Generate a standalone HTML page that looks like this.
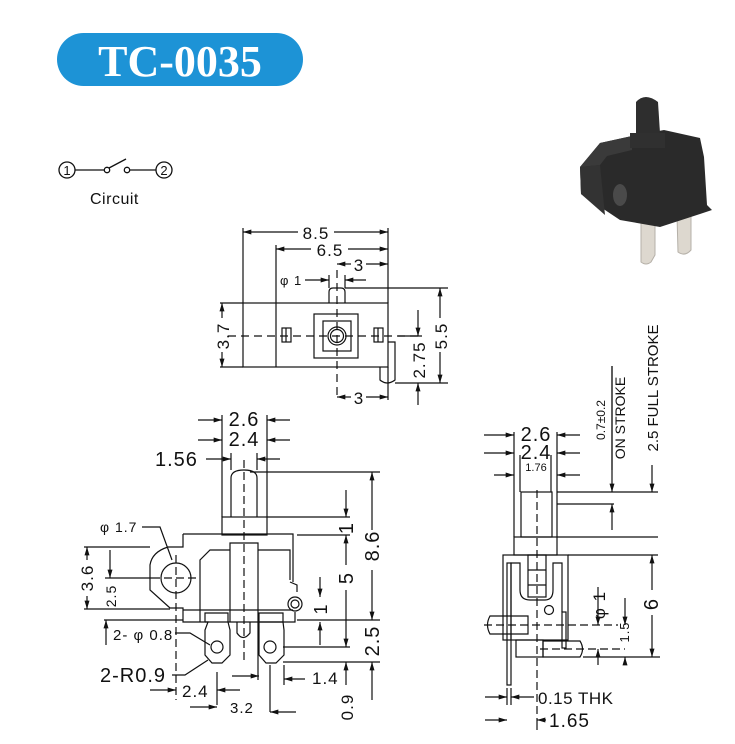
<!DOCTYPE html>
<html><head><meta charset="utf-8"><style>
html,body{margin:0;padding:0;background:#fff;width:735px;height:744px;overflow:hidden}
svg{display:block}
text{font-family:"Liberation Sans",sans-serif;fill:#111}
</style></head><body>
<svg width="735" height="744" viewBox="0 0 735 744" xmlns="http://www.w3.org/2000/svg">
<defs>
<marker id="a" viewBox="0 0 10 6" refX="10" refY="3" markerWidth="9" markerHeight="5" orient="auto-start-reverse" markerUnits="userSpaceOnUse"><path d="M0,0L10,3L0,6z" fill="#111"/></marker>
</defs>
<!-- header -->
<rect x="57" y="33" width="246" height="53" rx="26.5" fill="#1d93d6"/>
<text x="180" y="76" text-anchor="middle" style="font-family:'Liberation Serif',serif;font-weight:bold;font-size:44px;fill:#fff">TC-0035</text>
<!-- circuit -->
<g stroke="#111" stroke-width="1.3" fill="none">
<circle cx="67" cy="170" r="8"/><circle cx="164" cy="170" r="8"/>
<line x1="75" y1="170" x2="104" y2="170"/><circle cx="107" cy="170" r="2.7"/>
<line x1="109" y1="168" x2="126" y2="159"/><circle cx="127" cy="170" r="2.7"/>
<line x1="130" y1="170" x2="156" y2="170"/>
</g>
<text x="67" y="175" text-anchor="middle" font-size="13">1</text>
<text x="164" y="175" text-anchor="middle" font-size="13">2</text>
<text x="90" y="204" font-size="16" letter-spacing="0.5">Circuit</text>
<!-- photo -->
<g>
<path d="M641,222 L655,220 L655,255 L651,262 Q646,266 641,262 Z" fill="#ddd8cf" stroke="#b5b0a8"/>
<path d="M677,215 L691,213 L691,250 Q685,257 678,252 Z" fill="#ddd8cf" stroke="#b5b0a8"/>
<path d="M580,167 L600,143 L632,136 L664,130 L700,138 L704,157 L707,205 L712,210 L700,214 L660,227 L620,220 L581,194 Z" fill="#2a2a2a"/>
<path d="M580,167 L600,143 L632,136 L632,150 L607,156 L600,165 Z" fill="#3a3a3a"/>
<path d="M581,194 L580,167 L600,165 L605,215 Z" fill="#333"/>
<ellipse cx="620" cy="195" rx="7" ry="11" fill="#4a4a4a"/>
<rect x="630" y="133" width="35" height="15" fill="#303030"/>
<path d="M636,133 L636,102 Q645,92 658,102 L660,133 Z" fill="#2e2e2e"/>
</g>
<g stroke="#111" stroke-width="1.2" fill="none">
<!-- TOP VIEW -->
<rect x="243" y="303" width="145" height="64"/>
<line x1="276" y1="303" x2="276" y2="367"/>
<rect x="314" y="314" width="44" height="44"/>
<rect x="323" y="321" width="28" height="30"/>
<circle cx="337" cy="336" r="9"/><circle cx="337" cy="336" r="6.5"/>
<rect x="282" y="328" width="9" height="14"/><line x1="286" y1="328" x2="286" y2="342"/>
<rect x="374" y="328" width="9" height="14"/><line x1="378" y1="328" x2="378" y2="342"/>
<path d="M329,303 L329,292 Q329,288 333,288 L341,288 Q345,288 345,292 L345,303"/>
<path d="M380,367 L380,380 Q387,386 395,380 L395,342 L388,342"/>
<line x1="228" y1="336" x2="420" y2="336" stroke-dasharray="8,5"/>
<line x1="337" y1="270" x2="337" y2="400" stroke-dasharray="8,5"/>
<line x1="243" y1="228" x2="243" y2="303"/>
<line x1="388" y1="228" x2="388" y2="303"/>
<line x1="276" y1="245" x2="276" y2="303"/>
<line x1="329" y1="275" x2="329" y2="288"/><line x1="345" y1="275" x2="345" y2="288"/>
<line x1="243" y1="232" x2="298" y2="232" marker-start="url(#a)"/><line x1="334" y1="232" x2="388" y2="232" marker-end="url(#a)"/>
<line x1="276" y1="249" x2="311" y2="249" marker-start="url(#a)"/><line x1="348" y1="249" x2="388" y2="249" marker-end="url(#a)"/>
<line x1="337" y1="264" x2="351" y2="264" marker-start="url(#a)"/><line x1="366" y1="264" x2="388" y2="264" marker-end="url(#a)"/>
<line x1="305" y1="280" x2="329" y2="280" marker-end="url(#a)"/><line x1="366" y1="280" x2="345" y2="280" marker-end="url(#a)"/>
<line x1="220" y1="303" x2="243" y2="303"/><line x1="220" y1="367" x2="243" y2="367"/>
<line x1="222" y1="303" x2="222" y2="318" marker-start="url(#a)"/><line x1="222" y1="352" x2="222" y2="367" marker-end="url(#a)"/>
<line x1="345" y1="288" x2="448" y2="288"/><line x1="395" y1="383" x2="448" y2="383"/>
<line x1="440" y1="288" x2="440" y2="318" marker-start="url(#a)"/><line x1="440" y1="352" x2="440" y2="383" marker-end="url(#a)"/>
<line x1="398" y1="336" x2="422" y2="336"/>
<line x1="418" y1="310" x2="418" y2="336" marker-end="url(#a)"/><line x1="418" y1="405" x2="418" y2="383" marker-end="url(#a)"/>
<line x1="388" y1="367" x2="388" y2="400"/>
<line x1="337" y1="397" x2="351" y2="397" marker-start="url(#a)"/><line x1="366" y1="397" x2="388" y2="397" marker-end="url(#a)"/>

<!-- FRONT VIEW -->
<path d="M231,517 L231,478 Q231,470 244,470 Q257,470 257,478 L257,517"/>
<rect x="222" y="517" width="45" height="18"/>
<path d="M183,534 L293,534 L293,582 M183,534 L183,547 L168,547 Q152,552 150,565 L150,590 L170,608 L183,608 L183,622 L295,622 L295,612"/>
<line x1="183" y1="610" x2="293" y2="610"/>
<path d="M200,622 L200,560 L210,550 L230,550 M258,550 L290,550 L290,580"/>
<path d="M230,622 L230,543 L258,543 L258,622"/>
<path d="M237,622 L237,633 Q243,642 250,633 L250,622"/>
<circle cx="176" cy="578" r="15"/>
<line x1="152" y1="578" x2="200" y2="578" stroke-dasharray="8,4"/>
<line x1="176" y1="555" x2="176" y2="700" stroke-dasharray="8,4"/>
<circle cx="295" cy="604" r="7"/><circle cx="295" cy="604" r="4"/>
<path d="M290,582 L297,585 L297,592"/>
<path d="M205,622 L205,613 L228,613 L228,622 M205,622 L208,622 L205,630 L205,655 L212,663 L222,663 L230,655 L230,630 L228,622"/>
<circle cx="217" cy="647" r="6"/>
<path d="M259,622 L259,613 L283,613 L283,622 M259,630 L259,655 L266,663 L276,663 L284,655 L284,630 L283,622 L259,622 L259,630"/>
<circle cx="270" cy="647" r="6"/>
<line x1="244" y1="460" x2="244" y2="660" stroke-dasharray="8,4"/>
<line x1="222" y1="415" x2="222" y2="517"/><line x1="267" y1="415" x2="267" y2="517"/>
<line x1="231" y1="453" x2="231" y2="470"/><line x1="257" y1="453" x2="257" y2="470"/>
<line x1="198" y1="420" x2="222" y2="420" marker-end="url(#a)"/><line x1="290" y1="420" x2="267" y2="420" marker-end="url(#a)"/>
<line x1="198" y1="440" x2="222" y2="440" marker-end="url(#a)"/><line x1="290" y1="440" x2="267" y2="440" marker-end="url(#a)"/>
<line x1="206" y1="459" x2="231" y2="459" marker-end="url(#a)"/><line x1="280" y1="459" x2="257" y2="459" marker-end="url(#a)"/>
<line x1="250" y1="472" x2="380" y2="472"/><line x1="267" y1="517" x2="350" y2="517"/>
<line x1="297" y1="535" x2="350" y2="535"/><line x1="297" y1="620" x2="380" y2="620"/>
<line x1="283" y1="647" x2="350" y2="647"/><line x1="283" y1="662" x2="380" y2="662"/>
<line x1="372" y1="472" x2="372" y2="530" marker-start="url(#a)"/><line x1="372" y1="570" x2="372" y2="620" marker-end="url(#a)"/>
<line x1="372" y1="700" x2="372" y2="662" marker-end="url(#a)"/>
<line x1="346" y1="490" x2="346" y2="517" marker-end="url(#a)"/>
<line x1="346" y1="535" x2="346" y2="565" marker-start="url(#a)"/><line x1="346" y1="590" x2="346" y2="647" marker-end="url(#a)"/>
<line x1="346" y1="685" x2="346" y2="662" marker-end="url(#a)"/>
<line x1="320" y1="577" x2="320" y2="597" marker-end="url(#a)"/>
<line x1="320" y1="645" x2="320" y2="622" marker-end="url(#a)"/>
<line x1="258" y1="622" x2="258" y2="680"/>
<line x1="84" y1="547" x2="150" y2="547"/><line x1="84" y1="609" x2="170" y2="609"/>
<line x1="87" y1="547" x2="87" y2="560" marker-start="url(#a)"/><line x1="87" y1="596" x2="87" y2="609" marker-end="url(#a)"/>
<line x1="110" y1="550" x2="110" y2="578" marker-end="url(#a)"/><line x1="105" y1="578" x2="152" y2="578"/>
<line x1="106" y1="620" x2="106" y2="645" marker-start="url(#a)"/><line x1="104" y1="620" x2="183" y2="620"/>
<path d="M142,527 L160,527 L172,560"/>
<path d="M175,633 L190,633 L210,645"/>
<path d="M172,675 L185,675 L208,660"/>
<line x1="217" y1="672" x2="217" y2="705"/><line x1="270" y1="665" x2="270" y2="712"/>
<line x1="150" y1="690" x2="176" y2="690" marker-end="url(#a)"/><line x1="240" y1="690" x2="217" y2="690" marker-end="url(#a)"/>
<line x1="190" y1="707" x2="217" y2="707" marker-end="url(#a)"/><line x1="296" y1="712" x2="270" y2="712" marker-end="url(#a)"/>
<line x1="232" y1="676" x2="259" y2="676" marker-end="url(#a)"/>
<line x1="284" y1="665" x2="284" y2="685"/>
<line x1="305" y1="679" x2="284" y2="679" marker-end="url(#a)"/>

<!-- SIDE VIEW -->
<line x1="514" y1="432" x2="514" y2="537"/><line x1="557" y1="432" x2="557" y2="537"/>
<line x1="520" y1="455" x2="520" y2="492"/><line x1="551" y1="455" x2="551" y2="492"/>
<rect x="521" y="492" width="31" height="45"/>
<rect x="514" y="537" width="43" height="18"/>
<rect x="503" y="555" width="65" height="85"/>
<path d="M511,640 L511,563 L520,563 L520,590 Q520,600 530,600 L545,600 Q553,600 553,590 L553,563 L562,563 L562,612"/>
<rect x="528" y="555" width="18" height="42"/>
<line x1="528" y1="570" x2="546" y2="570"/><line x1="528" y1="585" x2="546" y2="585"/>
<circle cx="549" cy="610" r="4.5"/>
<rect x="507" y="563" width="4" height="122"/>
<rect x="562" y="612" width="4" height="36"/>
<path d="M528,616 L490,616 Q485,625 490,634 L528,634 Z"/>
<rect x="516" y="640" width="27" height="17"/>
<path d="M543,641 L580,641 Q585,649 580,657 L543,657 Z"/>
<line x1="537" y1="490" x2="537" y2="722" stroke-dasharray="8,4"/>
<line x1="484" y1="625" x2="618" y2="625" stroke-dasharray="8,4"/>
<line x1="540" y1="649" x2="625" y2="649" stroke-dasharray="8,4"/>
<line x1="484" y1="435" x2="514" y2="435" marker-end="url(#a)"/><line x1="580" y1="435" x2="557" y2="435" marker-end="url(#a)"/>
<line x1="484" y1="453" x2="514" y2="453" marker-end="url(#a)"/><line x1="580" y1="453" x2="557" y2="453" marker-end="url(#a)"/>
<line x1="494" y1="475" x2="514" y2="475" marker-end="url(#a)"/><line x1="580" y1="475" x2="557" y2="475" marker-end="url(#a)"/>
<line x1="557" y1="492" x2="658" y2="492"/><line x1="557" y1="504" x2="614" y2="504"/>
<line x1="557" y1="537" x2="658" y2="537"/><line x1="568" y1="555" x2="658" y2="555"/>
<line x1="612" y1="366" x2="612" y2="492" marker-end="url(#a)"/>
<line x1="612" y1="530" x2="612" y2="504" marker-end="url(#a)"/>
<line x1="652" y1="465" x2="652" y2="492" marker-end="url(#a)"/>
<line x1="652" y1="555" x2="652" y2="590" marker-start="url(#a)"/><line x1="652" y1="615" x2="652" y2="657" marker-end="url(#a)"/>
<line x1="583" y1="657" x2="660" y2="657"/>
<line x1="598" y1="587" x2="598" y2="625" marker-end="url(#a)"/>
<line x1="598" y1="665" x2="598" y2="649" marker-end="url(#a)"/>
<line x1="625" y1="598" x2="625" y2="625" marker-end="url(#a)"/>
<line x1="625" y1="665" x2="625" y2="657" marker-end="url(#a)"/>
<line x1="507" y1="688" x2="507" y2="705"/><line x1="511" y1="688" x2="511" y2="705"/>
<line x1="537" y1="722" x2="537" y2="730"/>
<line x1="485" y1="697" x2="507" y2="697" marker-end="url(#a)"/><line x1="534" y1="697" x2="511" y2="697" marker-end="url(#a)"/>
<line x1="485" y1="720" x2="507" y2="720" marker-end="url(#a)"/><line x1="546" y1="720" x2="537" y2="720" marker-end="url(#a)"/>
</g>
<!-- labels -->
<g font-size="17" letter-spacing="1">
<text x="316" y="239" text-anchor="middle" style="paint-order:stroke;stroke:#fff;stroke-width:5px">8.5</text>
<text x="330" y="256" text-anchor="middle" style="paint-order:stroke;stroke:#fff;stroke-width:5px">6.5</text>
<text x="359" y="271" text-anchor="middle">3</text>
<text x="359" y="404" text-anchor="middle">3</text>
<text x="280" y="285" font-size="13">φ 1</text>
<text transform="translate(229,336) rotate(-90)" text-anchor="middle">3.7</text>
<text transform="translate(447,336) rotate(-90)" text-anchor="middle">5.5</text>
<text transform="translate(425,360) rotate(-90)" text-anchor="middle">2.75</text>
<text x="244" y="426" text-anchor="middle" font-size="20">2.6</text>
<text x="244" y="446" text-anchor="middle" font-size="20">2.4</text>
<text x="155" y="466" font-size="20">1.56</text>
<text x="100" y="532" font-size="14">φ 1.7</text>
<text transform="translate(93,578) rotate(-90)" text-anchor="middle">3.6</text>
<text transform="translate(116,596) rotate(-90)" text-anchor="middle" font-size="14">2.5</text>
<text x="113" y="640" font-size="15">2- φ 0.8</text>
<text x="100" y="682" font-size="20">2-R0.9</text>
<text x="182" y="697" font-size="17">2.4</text>
<text x="230" y="713" font-size="15">3.2</text>
<text x="312" y="684" font-size="17">1.4</text>
<text transform="translate(379,546) rotate(-90)" text-anchor="middle" font-size="20">8.6</text>
<text transform="translate(353,578) rotate(-90)" text-anchor="middle" font-size="20">5</text>
<text transform="translate(353,528) rotate(-90)" text-anchor="middle" font-size="20">1</text>
<text transform="translate(327,609) rotate(-90)" text-anchor="middle" font-size="18">1</text>
<text transform="translate(379,641) rotate(-90)" text-anchor="middle" font-size="20">2.5</text>
<text transform="translate(353,707) rotate(-90)" text-anchor="middle" font-size="17">0.9</text>
<text x="536" y="441" text-anchor="middle" font-size="20">2.6</text>
<text x="536" y="459" text-anchor="middle" font-size="20">2.4</text>
<text x="536" y="471" text-anchor="middle" font-size="11" letter-spacing="0">1.76</text>
<text transform="translate(605,420) rotate(-90)" text-anchor="middle" font-size="12" letter-spacing="0">0.7±0.2</text>
<text transform="translate(625,418) rotate(-90)" text-anchor="middle" font-size="14" letter-spacing="0">ON STROKE</text>
<line x1="612" y1="366" x2="612" y2="470" stroke="#111" stroke-width="1.2"/>
<text transform="translate(658,388) rotate(-90)" text-anchor="middle" font-size="15" letter-spacing="0">2.5 FULL STROKE</text>
<text transform="translate(605,605) rotate(-90)" text-anchor="middle" font-size="17">φ 1</text>
<text transform="translate(629,632) rotate(-90)" text-anchor="middle" font-size="13">1.5</text>
<text transform="translate(658,604) rotate(-90)" text-anchor="middle" font-size="20">6</text>
<text x="538" y="704" font-size="17" letter-spacing="0.5">0.15 THK</text>
<text x="549" y="727" font-size="19">1.65</text>
</g>
</svg>
</body></html>
